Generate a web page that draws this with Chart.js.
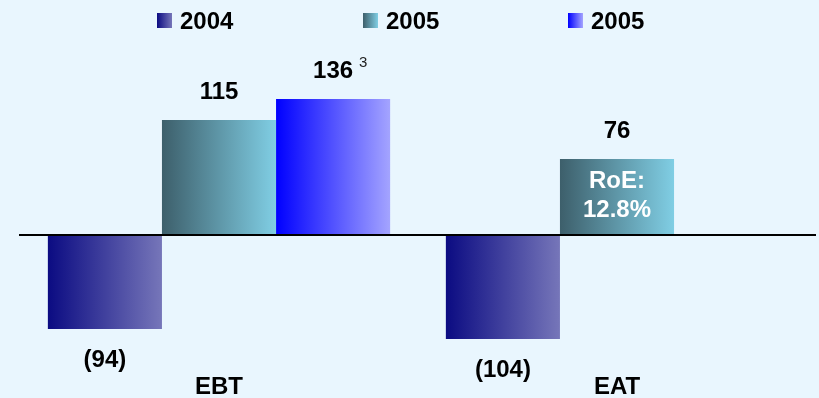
<!DOCTYPE html>
<html>
<head>
<meta charset="utf-8">
<script src="https://cdn.jsdelivr.net/npm/chart.js@4"></script>
<style>
  html, body { margin: 0; padding: 0; background: #e9f6fe; }
  #wrap { width: 819px; height: 398px; }
</style>
</head>
<body>
<div id="wrap"><canvas id="barChart" width="819" height="398"></canvas></div>
<script>
// data
const categories = ["EBT", "EAT"];
const seriesNames = ["2004", "2005", "2005"];
const values2004 = [-94, -104];
const values2005 = [115, 76];
const values2005b = [136, null];
const valueLabels = [
  ["(94)", "(104)"],
  ["115", "76"],
  ["136", ""],
];

// left -> right gradient stops for each series
const gradStops = [
  ["#0b0b82", "#7676b9"],
  ["#3d5f6b", "#80cee4"],
  ["#0000ff", "#a4a4ff"],
];

const CAT_PCT = 0.86;
const BOLD = "bold 24px 'Liberation Sans', Arial, sans-serif";

// horizontal gradient for a single bar, worked out from the x scale
function barGradient(ctx) {
  const chart = ctx.chart;
  const xs = chart.scales.x;
  if (!xs || !chart.chartArea) return gradStops[ctx.datasetIndex][0];
  const catW = xs.width / categories.length;
  const barW = (catW * CAT_PCT) / 3;
  const left = xs.getPixelForValue(ctx.dataIndex) - (catW * CAT_PCT) / 2 + ctx.datasetIndex * barW;
  const g = chart.ctx.createLinearGradient(left, 0, left + barW, 0);
  g.addColorStop(0, gradStops[ctx.datasetIndex][0]);
  g.addColorStop(1, gradStops[ctx.datasetIndex][1]);
  return g;
}

const labelPlugin = {
  id: "labels",
  afterDatasetsDraw(chart) {
    const c = chart.ctx;
    const ys = chart.scales.y;
    const xs = chart.scales.x;
    const area = chart.chartArea;
    const zero = ys.getPixelForValue(0);

    // zero line
    c.save();
    c.strokeStyle = "#000";
    c.lineWidth = 2;
    c.beginPath();
    c.moveTo(area.left - 1, zero);
    c.lineTo(area.right, zero);
    c.stroke();

    c.textAlign = "center";
    c.textBaseline = "middle";
    c.font = BOLD;
    c.fillStyle = "#000";

    // value labels above / below bars
    chart.data.datasets.forEach((ds, di) => {
      const meta = chart.getDatasetMeta(di);
      meta.data.forEach((bar, i) => {
        const v = ds.data[i];
        const txt = valueLabels[di][i];
        if (v == null || !txt) return;
        const y = v >= 0 ? ys.getPixelForValue(v) - 28 : ys.getPixelForValue(v) + 31;
        c.fillText(txt, bar.x, y);
        if (di === 2 && i === 0) {
          // footnote marker
          const w = c.measureText(txt).width;
          c.save();
          c.font = "15px 'Liberation Sans', Arial, sans-serif";
          c.textAlign = "left";
          c.fillStyle = "#222";
          c.fillText("3", bar.x + w / 2 + 6, y - 8);
          c.restore();
        }
      });
    });

    // RoE inside the EAT 2005 bar
    const roeBar = chart.getDatasetMeta(1).data[1];
    c.fillStyle = "#fff";
    c.fillText("RoE:", roeBar.x, 181);
    c.fillText("12.8%", roeBar.x, 210);

    // category names
    c.fillStyle = "#000";
    categories.forEach((cat, i) => {
      c.fillText(cat, xs.getPixelForValue(i), 387);
    });

    // legend
    const legendX = [157, 363, 568];
    seriesNames.forEach((name, i) => {
      const x = legendX[i];
      const g = c.createLinearGradient(x, 0, x + 15, 0);
      g.addColorStop(0, gradStops[i][0]);
      g.addColorStop(1, gradStops[i][1]);
      c.fillStyle = g;
      c.fillRect(x, 13, 15, 15);
      c.fillStyle = "#000";
      c.textAlign = "left";
      c.font = BOLD;
      c.fillText(name, x + 23, 22);
    });
    c.restore();
  },
};

const barCanvas = document.getElementById("barChart").getContext("2d");
const barChart = new Chart(barCanvas, {
  type: "bar",
  data: {
    labels: categories,
    datasets: [
      { label: seriesNames[0], data: values2004, backgroundColor: barGradient },
      { label: seriesNames[1], data: values2005, backgroundColor: barGradient },
      { label: seriesNames[2], data: values2005b, backgroundColor: barGradient },
    ],
  },
  options: {
    responsive: false,
    animation: false,
    layout: { padding: { left: 20, right: 3, top: 50, bottom: 13 } },
    datasets: {
      bar: { barPercentage: 1, categoryPercentage: CAT_PCT, borderWidth: 0 },
    },
    scales: {
      x: { display: false },
      y: { display: false, min: -150, max: 185 },
    },
    plugins: {
      legend: { display: false },
      tooltip: { enabled: false },
    },
  },
  plugins: [labelPlugin],
});
</script>
</body>
</html>
